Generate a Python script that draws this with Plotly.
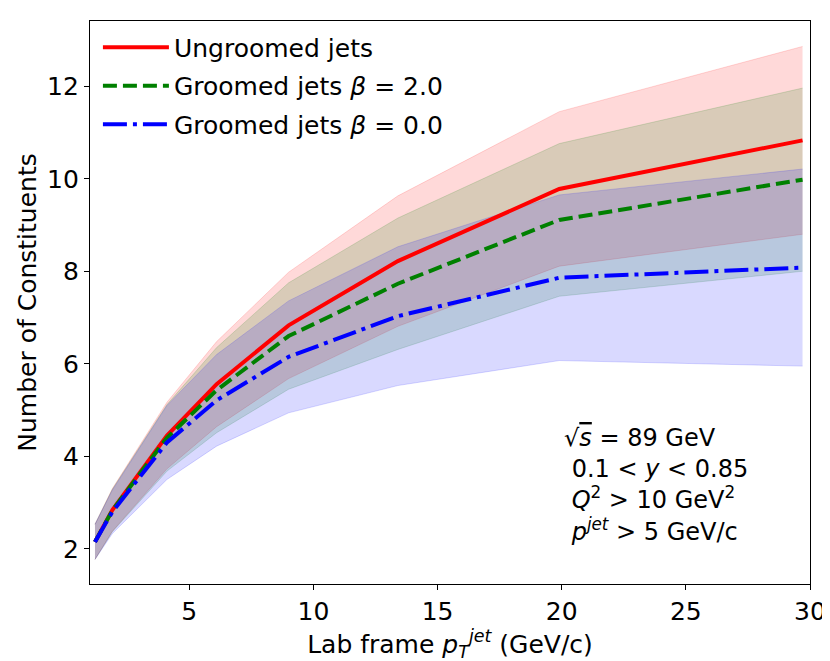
import plotly.graph_objects as go

pt = [1.2, 1.9, 4.1, 6.1, 9.0, 13.4, 19.9, 29.7]

ungroomed = [2.15, 2.84, 4.45, 5.56, 6.83, 8.22, 9.78, 10.83]
ungroomed_std = [0.38, 0.46, 0.72, 0.92, 1.15, 1.41, 1.67, 2.03]

groomed_b2 = [2.15, 2.83, 4.40, 5.43, 6.60, 7.73, 9.11, 9.98]
groomed_b2_std = [0.38, 0.46, 0.72, 0.92, 1.15, 1.42, 1.65, 1.98]

groomed_b0 = [2.15, 2.80, 4.30, 5.21, 6.15, 7.03, 7.86, 8.08]
groomed_b0_std = [0.38, 0.47, 0.80, 0.99, 1.21, 1.50, 1.79, 2.13]

series = [
    ("Ungroomed jets", ungroomed, ungroomed_std, "#ff0000", "rgba(255,0,0,0.15)", "solid"),
    ("Groomed jets <i>β</i> = 2.0", groomed_b2, groomed_b2_std, "#008000", "rgba(0,128,0,0.15)", "14px,6px"),
    ("Groomed jets <i>β</i> = 0.0", groomed_b0, groomed_b0_std, "#0000ff", "rgba(0,0,255,0.15)", "24px,6px,4px,6px"),
]

fig = go.Figure()
for i, (name, mean, std, col, fill, dash) in enumerate(series):
    lo = [m - s for m, s in zip(mean, std)]
    hi = [m + s for m, s in zip(mean, std)]
    fig.add_trace(go.Scatter(x=pt, y=lo, mode="lines", line=dict(width=1, color=fill),
                             showlegend=False, hoverinfo="skip", legendgroup=f"g{i}"))
    fig.add_trace(go.Scatter(x=pt, y=hi, mode="lines", line=dict(width=1, color=fill),
                             fill="tonexty", fillcolor=fill, showlegend=False,
                             hoverinfo="skip", legendgroup=f"g{i}"))
for i, (name, mean, std, col, fill, dash) in enumerate(series):
    fig.add_trace(go.Scatter(x=pt, y=mean, mode="lines", name=name,
                             line=dict(color=col, width=4, dash=dash), legendgroup=f"g{i}"))

fig.add_annotation(
    x=0.655, y=0.287, xref="paper", yref="paper", xanchor="left", yanchor="top", align="left",
    showarrow=False,
    text=("√<span style='text-decoration:overline'><i>s</i></span> = 89 GeV<br>"
          " 0.1 &lt; <i>y</i> &lt; 0.85<br>"
          " <i>Q</i><sup>2</sup> &gt; 10 GeV<sup>2</sup><br>"
          " <i>p</i><sup><i>jet</i></sup> &gt; 5 GeV/c"),
    font=dict(family="DejaVu Sans", size=24, color="black"),
)

fig.update_layout(
    width=830, height=661,
    margin=dict(l=82, r=26, t=13, b=85),
    paper_bgcolor="white", plot_bgcolor="white",
    font=dict(family="DejaVu Sans", size=25, color="black"),
    legend=dict(x=0.011, y=0.994, xanchor="left", yanchor="top", bgcolor="rgba(0,0,0,0)",
                font=dict(size=25), itemwidth=66, tracegroupgap=3, traceorder="grouped"),
    xaxis=dict(range=[1, 30], tickvals=[5, 10, 15, 20, 25, 30], showgrid=False, zeroline=False,
               showline=True, linecolor="black", linewidth=1.2, mirror=True,
               ticks="outside", ticklen=5, tickcolor="black",
               title=dict(text="Lab frame <i>p</i><sub><i>T</i></sub><sup><i>jet</i></sup> (GeV/c)",
                          font=dict(size=25), standoff=6),
               tickfont=dict(size=25)),
    yaxis=dict(range=[1.24, 13.41], tickvals=[2, 4, 6, 8, 10, 12], showgrid=False, zeroline=False,
               showline=True, linecolor="black", linewidth=1.2, mirror=True,
               ticks="outside", ticklen=5, tickcolor="black",
               title=dict(text="Number of Constituents", font=dict(size=25), standoff=3),
               tickfont=dict(size=25)),
)

fig.write_html("out.html")
